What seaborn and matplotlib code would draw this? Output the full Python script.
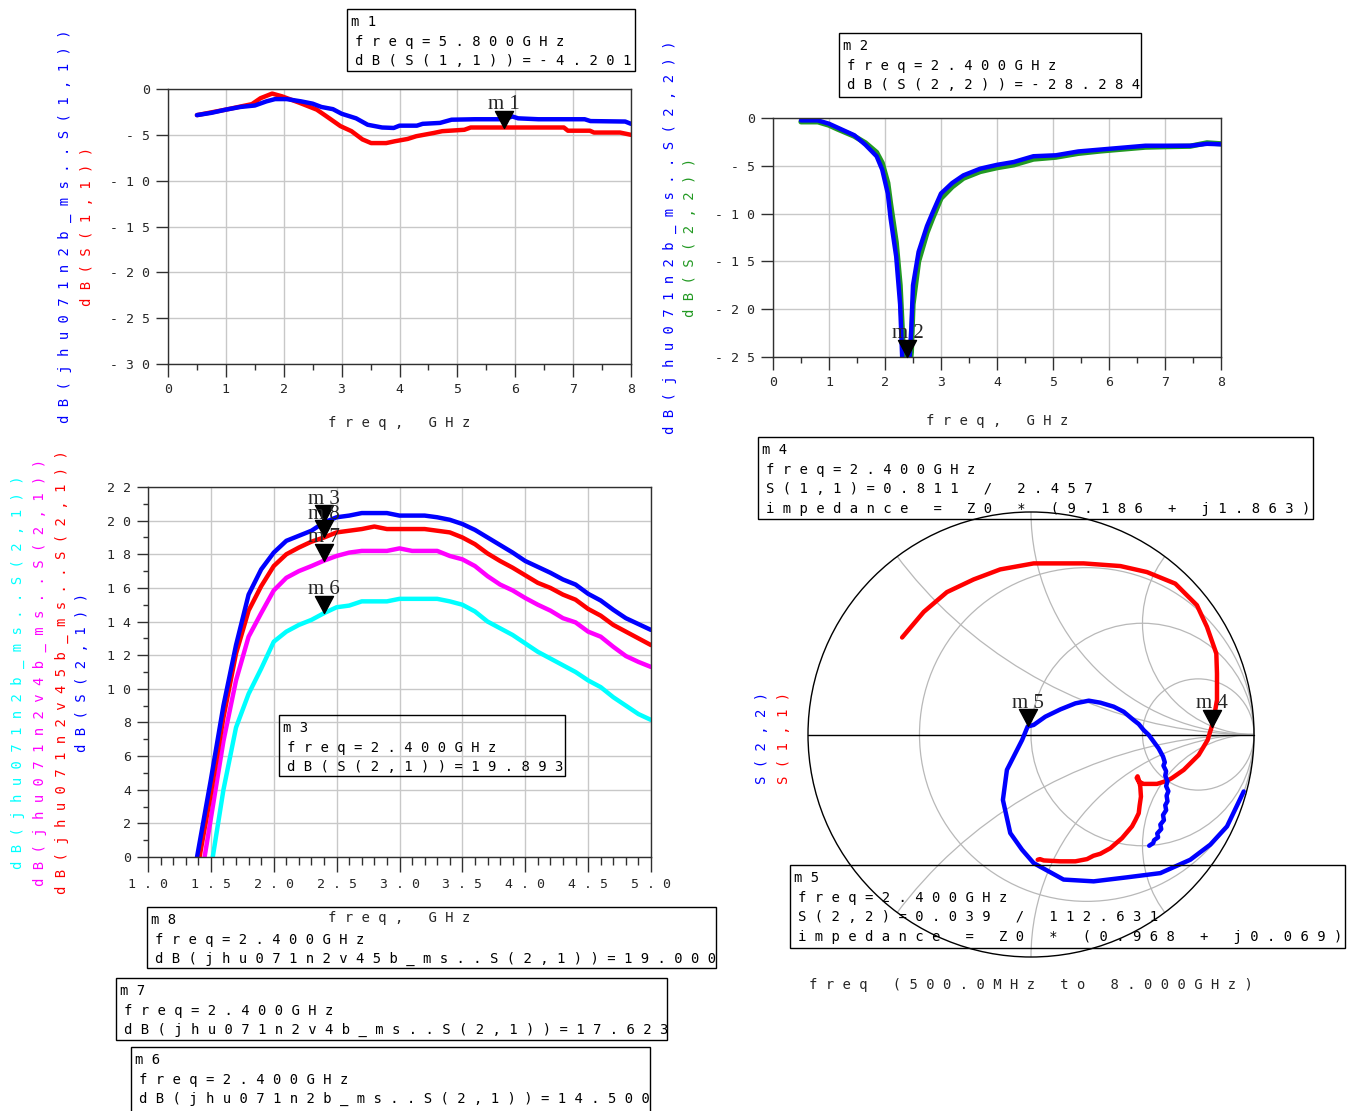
import math
import matplotlib
matplotlib.use("Agg")
import matplotlib.pyplot as plt
import seaborn as sns
from matplotlib import patches
from matplotlib.path import Path

# ---------------- data ----------------
# Top-left: input match (dB)
p1_freq_jhu = [0.5, 0.75, 1.0, 1.25, 1.5, 1.7, 1.85, 2.05, 2.3, 2.5, 2.65, 2.85, 3.0, 3.25, 3.45,
               3.7, 3.9, 4.0, 4.3, 4.4, 4.7, 4.9, 5.3, 5.8, 5.95, 6.05, 6.4, 7.2, 7.3, 7.9, 8.0]
p1_s11_jhu = [-2.85, -2.6, -2.25, -1.96, -1.8, -1.35, -1.1, -1.1, -1.35, -1.6, -1.96, -2.2, -2.7, -3.2, -3.9,
              -4.2, -4.25, -4.0, -4.0, -3.8, -3.7, -3.35, -3.3, -3.3, -3.0, -3.2, -3.3, -3.3, -3.5, -3.55, -3.8]
p1_freq_s11 = [0.5, 1.0, 1.45, 1.6, 1.8, 1.97, 2.27, 2.57, 2.72, 2.98, 3.17, 3.36, 3.51, 3.77, 3.92,
               4.14, 4.29, 4.59, 4.74, 5.12, 5.23, 5.8, 6.84, 6.91, 7.29, 7.36, 7.81, 8.0]
p1_s11 = [-2.85, -2.25, -1.65, -1.0, -0.5, -0.8, -1.5, -2.25, -2.9, -4.05, -4.6, -5.5, -5.9, -5.9, -5.7,
          -5.45, -5.15, -4.8, -4.6, -4.45, -4.2, -4.201, -4.2, -4.55, -4.55, -4.75, -4.75, -5.0]
p1_xticks = [0, 1, 2, 3, 4, 5, 6, 7, 8]
p1_xminor = [0.5, 1.5, 2.5, 3.5, 4.5, 5.5, 6.5, 7.5]
p1_yticks = [0, -5, -10, -15, -20, -25, -30]

# Top-right: output match (dB)
p2_freq = [0.5, 0.8, 1.0, 1.15, 1.45, 1.65, 1.85, 1.95, 2.05, 2.1, 2.2, 2.27, 2.32, 2.4, 2.47, 2.5, 2.6,
           2.75, 2.85, 3.0, 3.2, 3.4, 3.7, 4.0, 4.3, 4.65, 5.05, 5.45, 5.85, 6.25, 6.65, 7.0, 7.45, 7.75, 8.0]
p2_s22_jhu = [-0.25, -0.25, -0.6, -1.0, -1.8, -2.8, -4.0, -5.4, -7.9, -10.5, -14.5, -19.5, -27.0, -29.0, -22.0,
              -17.5, -14.0, -11.3, -9.9, -7.9, -6.8, -6.0, -5.3, -4.9, -4.6, -4.0, -3.9, -3.5, -3.3, -3.1,
              -2.9, -2.9, -2.9, -2.7, -2.75]
p2_s22 = [-0.4, -0.4, -0.75, -1.15, -1.9, -2.6, -3.6, -4.7, -6.8, -9.0, -13.0, -17.5, -23.5, -28.284, -24.5,
          -19.5, -15.0, -12.0, -10.5, -8.4, -7.2, -6.3, -5.6, -5.2, -4.9, -4.3, -4.1, -3.7, -3.45, -3.25,
          -3.05, -3.0, -2.95, -2.6, -2.7]
p2_yticks = [0, -5, -10, -15, -20, -25]

# Bottom-left: gain (dB) of four designs
p3_grid = [1.5, 1.6, 1.7, 1.8, 1.9, 2.0, 2.1, 2.2, 2.3, 2.4, 2.5, 2.6, 2.7, 2.8, 2.9, 3.0, 3.1, 3.2,
           3.3, 3.4, 3.5, 3.6, 3.7, 3.8, 3.9, 4.0, 4.1, 4.2, 4.3, 4.4, 4.5, 4.6, 4.7, 4.8, 4.9, 5.0]
s21_onset = {"s21": 1.39, "v45b": 1.41, "v4b": 1.45, "n2b": 1.515}
s21_main = [4.6, 9.0, 12.6, 15.6, 17.1, 18.1, 18.8, 19.1, 19.4, 19.893, 20.2, 20.3, 20.45, 20.45, 20.45, 20.3,
            20.3, 20.3, 20.2, 20.05, 19.8, 19.45, 19.0, 18.55, 18.1, 17.6, 17.25, 16.9, 16.5, 16.2, 15.65,
            15.25, 14.7, 14.2, 13.85, 13.5]
s21_v45b = [3.8, 8.3, 12.1, 14.65, 16.1, 17.3, 18.0, 18.4, 18.75, 19.0, 19.3, 19.4, 19.5, 19.65, 19.5, 19.5,
            19.5, 19.5, 19.4, 19.3, 19.0, 18.6, 18.05, 17.6, 17.2, 16.75, 16.3, 16.0, 15.6, 15.3, 14.75,
            14.35, 13.8, 13.4, 13.0, 12.6]
s21_v4b = [2.3, 6.9, 10.5, 13.1, 14.5, 15.85, 16.6, 17.0, 17.3, 17.623, 17.9, 18.1, 18.2, 18.2, 18.2, 18.35,
           18.2, 18.2, 18.2, 17.9, 17.7, 17.3, 16.7, 16.2, 15.85, 15.4, 15.0, 14.65, 14.2, 13.95, 13.4,
           13.1, 12.5, 11.95, 11.6, 11.3]
s21_n2b = [4.0, 7.7, 9.7, 11.2, 12.8, 13.4, 13.8, 14.1, 14.5, 14.85, 14.95, 15.2, 15.2, 15.2, 15.35, 15.35,
           15.35, 15.35, 15.2, 15.0, 14.6, 14.0, 13.6, 13.2, 12.7, 12.2, 11.8, 11.4, 11.0, 10.5, 10.1,
           9.5, 9.0, 8.5, 8.15]
p3_xticks = [1.0, 1.5, 2.0, 2.5, 3.0, 3.5, 4.0, 4.5, 5.0]
p3_yticks = [0, 2, 4, 6, 8, 10, 12, 14, 16, 18, 20, 22]
p3_yminor = [1, 3, 5, 7, 9, 11, 13, 15, 17, 19, 21]

# Smith chart: reflection coefficients, 500 MHz -> 8 GHz
s11_re = [-0.578, -0.481, -0.377, -0.257, -0.138, 0.012, 0.236, 0.401, 0.520, 0.647, 0.744, 0.789, 0.831,
          0.834, 0.834, 0.822, 0.8103, 0.792, 0.752, 0.685, 0.632, 0.610, 0.565, 0.505, 0.483, 0.474,
          0.478, 0.484, 0.490, 0.493, 0.487, 0.483, 0.468, 0.453, 0.430, 0.408, 0.380, 0.356, 0.311,
          0.280, 0.251, 0.199, 0.132, 0.057, 0.040, 0.030]
s11_im = [0.436, 0.551, 0.640, 0.697, 0.742, 0.769, 0.769, 0.757, 0.730, 0.678, 0.581, 0.484, 0.364,
          0.274, 0.155, 0.085, 0.0348, -0.025, -0.092, -0.159, -0.196, -0.208, -0.222, -0.222, -0.212,
          -0.195, -0.188, -0.206, -0.234, -0.279, -0.320, -0.354, -0.385, -0.413, -0.440, -0.466, -0.490,
          -0.511, -0.536, -0.545, -0.560, -0.570, -0.570, -0.566, -0.560, -0.563]
s22_re = [0.954, 0.879, 0.804, 0.714, 0.580, 0.430, 0.281, 0.146, 0.012, -0.040, -0.093, -0.126, -0.108,
          -0.070, -0.040, -0.0150, 0.012, 0.064, 0.132, 0.199, 0.259, 0.311, 0.371, 0.416, 0.460, 0.483,
          0.505, 0.528, 0.550, 0.572, 0.592, 0.600, 0.594, 0.606, 0.602, 0.612, 0.606, 0.616, 0.608,
          0.612, 0.602, 0.606, 0.592, 0.596, 0.580, 0.584, 0.566, 0.570, 0.552, 0.548, 0.530]
s22_im = [-0.256, -0.413, -0.495, -0.563, -0.623, -0.642, -0.660, -0.652, -0.578, -0.518, -0.443, -0.294,
          -0.159, -0.084, -0.025, 0.0360, 0.043, 0.080, 0.113, 0.140, 0.152, 0.143, 0.125, 0.102, 0.065,
          0.047, 0.020, -0.002, -0.032, -0.062, -0.099, -0.125, -0.140, -0.165, -0.185, -0.210, -0.232,
          -0.255, -0.275, -0.300, -0.318, -0.340, -0.362, -0.385, -0.405, -0.425, -0.445, -0.462, -0.475,
          -0.488, -0.500]
smith_r_circles = [1 / 3, 1.0, 3.0]
smith_x_arcs = [0.5, 1.0, 2.0]

# Marker readouts
m1 = (5.8, -4.201)
m2 = (2.4, -28.284)
m3 = (2.4, 19.893)
m8 = (2.4, 19.000)
m7 = (2.4, 17.623)
m6 = (2.4, 14.500)
m4_mag, m4_ang = 0.811, 2.457
m5_mag, m5_ang = 0.039, 112.631

# ---------------- style ----------------
sns.set_style("white")
plt.rcParams["font.family"] = ["DejaVu Sans Mono", "DejaVu Sans"]
plt.rcParams["axes.unicode_minus"] = False

W, H = 1351, 1111
fig = plt.figure(figsize=(W / 100, H / 100), dpi=100)
PT = 72 / 100  # points per pixel

BLUE, RED, GREEN, MAG, CYAN = "#0000ff", "#ff0000", "#229922", "#ff00ff", "#00ffff"
GRID = "#c8c8c8"
SMITH_GRID = "#b8b8b8"
LW = 3.2


def sp(s):
    return " ".join(s)


def px_axes(x0, y0, x1, y1):
    return fig.add_axes([x0 / W, 1 - y1 / H, (x1 - x0) / W, (y1 - y0) / H])


# downward triangle with its tip at the marked point
TRI = Path([(-0.53, 1.0), (0.53, 1.0), (0.0, 0.0), (-0.53, 1.0)],
           [Path.MOVETO, Path.LINETO, Path.LINETO, Path.CLOSEPOLY])


def marker(ax, x, y, name):
    ax.plot([x], [y], marker=TRI, ms=24.5, color="black", ls="none", zorder=6, clip_on=False)
    ax.annotate(sp(name), (x, y), xytext=(0, 13.5), textcoords="offset points", ha="center",
                va="baseline", family=["Liberation Serif", "DejaVu Serif"], fontsize=15, zorder=7,
                annotation_clip=False)


def style_rect(ax, xlim, ylim, xticks, xlabels, xminor, yticks, ylabels, yminor,
               xmaj_len, xmin_len, ymaj_len, ymin_len):
    ax.set_xlim(*xlim)
    ax.set_ylim(*ylim)
    ax.set_xticks(xticks, labels=xlabels)
    ax.set_xticks(xminor, minor=True)
    ax.set_yticks(yticks, labels=ylabels)
    ax.set_yticks(yminor, minor=True)
    ax.set_axisbelow(True)
    ax.grid(True, which="major", color=GRID, lw=1.0)
    ax.grid(False, which="minor")
    ax.tick_params(axis="x", which="major", direction="out", length=xmaj_len * PT, width=1,
                   pad=4, labelsize=9.5, color="#303030", bottom=True)
    ax.tick_params(axis="x", which="minor", direction="out", length=xmin_len * PT, width=1,
                   color="#303030", bottom=True)
    ax.tick_params(axis="y", which="major", direction="out", length=ymaj_len * PT, width=1,
                   pad=4, labelsize=9.5, color="#303030", left=True)
    ax.tick_params(axis="y", which="minor", direction="out", length=ymin_len * PT, width=1,
                   color="#303030", left=True)
    for s in ax.spines.values():
        s.set_color("#303030")
        s.set_linewidth(1.0)
        s.set_visible(True)


def ylabels_stack(ax, items):
    for xa, text, color in items:
        ax.text(xa, 0.5, sp(text), rotation=90, transform=ax.transAxes, ha="center",
                va="center", color=color, fontsize=10)


def readout(x0, y0, x1, y1, lines):
    fig.add_artist(patches.Rectangle((x0 / W, 1 - y1 / H), (x1 - x0) / W, (y1 - y0) / H,
                                     transform=fig.transFigure, fill=False, ec="black", lw=1.0))
    for i, line in enumerate(lines):
        xx = x0 + (4 if i == 0 else 8)
        yy = y0 + 13 + 19.6 * i
        fig.text(xx / W, 1 - yy / H, sp(line), ha="left", va="center", fontsize=10, color="black")


# ---------------- top-left ----------------
ax1 = px_axes(168, 89, 631, 364)
sns.lineplot(x=p1_freq_s11, y=p1_s11, ax=ax1, color=RED, lw=LW, estimator=None, sort=False, legend=False)
sns.lineplot(x=p1_freq_jhu, y=p1_s11_jhu, ax=ax1, color=BLUE, lw=LW, estimator=None, sort=False, legend=False)
style_rect(ax1, (0, 8), (-30, 0), p1_xticks, [sp(str(v)) for v in p1_xticks], p1_xminor,
           p1_yticks, [sp(str(v)) for v in p1_yticks], [], 13, 6, 12, 0)
ax1.set_xlabel(sp("freq, GHz"), fontsize=10, va="center")
ax1.xaxis.set_label_coords(0.5, -0.2145)
ax1.set_ylabel("")
ylabels_stack(ax1, [(-0.2225, "dB(jhu071n2b_ms..S(1,1))", BLUE), (-0.175, "dB(S(1,1))", RED)])
marker(ax1, m1[0], m1[1], "m1")

# ---------------- top-right ----------------
ax2 = px_axes(773, 118, 1221, 357)
sns.lineplot(x=p2_freq, y=p2_s22, ax=ax2, color=GREEN, lw=LW + 0.6, estimator=None, sort=False, legend=False)
sns.lineplot(x=p2_freq, y=p2_s22_jhu, ax=ax2, color=BLUE, lw=LW, estimator=None, sort=False, legend=False)
style_rect(ax2, (0, 8), (-25, 0), p1_xticks, [sp(str(v)) for v in p1_xticks], p1_xminor,
           p2_yticks, [sp(str(v)) for v in p2_yticks], [], 13, 6, 12, 0)
ax2.set_xlabel(sp("freq, GHz"), fontsize=10, va="center")
ax2.xaxis.set_label_coords(0.5, -0.268)
ax2.set_ylabel("")
ylabels_stack(ax2, [(-0.23, "dB(jhu071n2b_ms..S(2,2))", BLUE), (-0.185, "dB(S(2,2))", GREEN)])
# the readout lies below the plotted range, so the marker sits on the lower edge
marker(ax2, m2[0], max(m2[1], ax2.get_ylim()[0]), "m2")

# ---------------- bottom-left ----------------
ax3 = px_axes(148, 487, 651, 857)
gain_series = [("n2b", s21_n2b, CYAN), ("v4b", s21_v4b, MAG), ("v45b", s21_v45b, RED), ("s21", s21_main, BLUE)]
for key, vals, color in gain_series:
    onset = s21_onset[key]
    f = [onset] + [g for g in p3_grid if g > onset]
    v = [0.0] + vals
    sns.lineplot(x=f, y=v, ax=ax3, color=color, lw=LW, estimator=None, sort=False, legend=False)
p3_xminor = [round(1.0 + 0.1 * k, 1) for k in range(41) if k % 5 != 0]
style_rect(ax3, (1.0, 5.0), (0, 22), p3_xticks, [sp(f"{v:.1f}") for v in p3_xticks], p3_xminor,
           p3_yticks, [sp(str(v)) for v in p3_yticks], p3_yminor, 15, 8, 11, 5)
ax3.set_xlabel(sp("freq, GHz"), fontsize=10, va="center")
ax3.xaxis.set_label_coords(0.5, -0.165)
ax3.set_ylabel("")
ylabels_stack(ax3, [(-0.2584, "dB(jhu071n2b_ms..S(2,1))", CYAN),
                    (-0.2147, "dB(jhu071n2v4b_ms..S(2,1))", MAG),
                    (-0.171, "dB(jhu071n2v45b_ms..S(2,1))", RED),
                    (-0.131, "dB(S(2,1))", BLUE)])
for mk, name in [(m3, "m3"), (m8, "m8"), (m7, "m7"), (m6, "m6")]:
    marker(ax3, mk[0], mk[1], name)

# ---------------- Smith chart ----------------
axs = px_axes(808, 512, 1254, 957)
axs.axis("off")
outline = patches.Circle((0, 0), 1.0, fill=False, ec="black", lw=1.0, zorder=3, clip_on=False)
axs.add_patch(outline)
for r in smith_r_circles:
    axs.add_patch(patches.Circle((r / (1 + r), 0), 1 / (1 + r), fill=False, ec=SMITH_GRID, lw=0.9,
                                 zorder=1, clip_on=False))
for xv in smith_x_arcs:
    for sgn in (1, -1):
        arc = patches.Circle((1, sgn / xv), 1 / xv, fill=False, ec=SMITH_GRID, lw=0.9, zorder=1)
        axs.add_patch(arc)
        arc.set_clip_path(outline)
axs.plot([-1, 1], [0, 0], color="black", lw=1.0, zorder=2, clip_on=False)
sns.lineplot(x=s11_re, y=s11_im, ax=axs, color=RED, lw=LW, estimator=None, sort=False, legend=False, zorder=4)
sns.lineplot(x=s22_re, y=s22_im, ax=axs, color=BLUE, lw=LW, estimator=None, sort=False, legend=False, zorder=4)
axs.set_xlim(-1, 1)
axs.set_ylim(-1, 1)
for mag, ang, name in [(m4_mag, m4_ang, "m4"), (m5_mag, m5_ang, "m5")]:
    gx, gy = mag * math.cos(math.radians(ang)), mag * math.sin(math.radians(ang))
    marker(axs, gx, gy, name)
axs.text(-0.103, 0.492, sp("S(2,2)"), rotation=90, transform=axs.transAxes, ha="center", va="center",
         color=BLUE, fontsize=10)
axs.text(-0.054, 0.492, sp("S(1,1)"), rotation=90, transform=axs.transAxes, ha="center", va="center",
         color=RED, fontsize=10)
axs.text(0.5, -0.063, sp("freq (500.0MHz to 8.000GHz)"), transform=axs.transAxes, ha="center",
         va="center", fontsize=10)

# ---------------- marker readouts ----------------
readout(347, 9, 635, 71, ["m1", "freq=5.800GHz", "dB(S(1,1))=-4.201"])
readout(839, 33, 1141, 97, ["m2", "freq=2.400GHz", "dB(S(2,2))=-28.284"])
readout(279, 715, 565, 776, ["m3", "freq=2.400GHz", "dB(S(2,1))=19.893"])
readout(758, 437, 1313, 519, ["m4", "freq=2.400GHz", "S(1,1)=0.811 / 2.457",
                              "impedance = Z0 * (9.186 + j1.863)"])
readout(790, 865, 1345, 948, ["m5", "freq=2.400GHz", "S(2,2)=0.039 / 112.631",
                              "impedance = Z0 * (0.968 + j0.069)"])
readout(147, 907, 716, 968, ["m8", "freq=2.400GHz", "dB(jhu071n2v45b_ms..S(2,1))=19.000"])
readout(116, 978, 667, 1040, ["m7", "freq=2.400GHz", "dB(jhu071n2v4b_ms..S(2,1))=17.623"])
readout(131, 1047, 650, 1113, ["m6", "freq=2.400GHz", "dB(jhu071n2b_ms..S(2,1))=14.500"])

fig.savefig("out.png", dpi=100, facecolor="white")
